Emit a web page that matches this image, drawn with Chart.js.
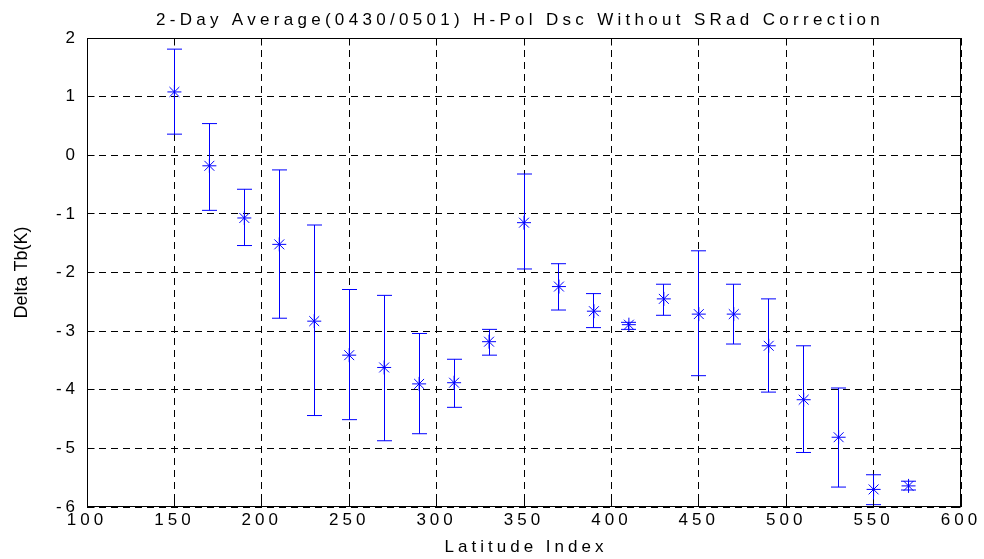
<!DOCTYPE html>
<html>
<head>
<meta charset="utf-8">
<script src="https://cdn.jsdelivr.net/npm/chart.js@4/dist/chart.umd.min.js"></script>
<style>
  body { margin: 0; background: #fff; }
  #wrap { width: 984px; height: 559px; }
</style>
</head>
<body>
<div id="wrap"><canvas id="grafik" width="984" height="559"></canvas></div>
<script>
// --- VERİ ---
const latIndex = [150, 170, 190, 210, 230, 250, 270, 290, 310, 330, 350, 370, 390, 410, 430, 450, 470, 490, 510, 530, 550, 570];
const deltaTb = [1.08, -0.18, -1.07, -1.52, -2.83, -3.41, -3.62, -3.90, -3.88, -3.18, -1.15, -2.24, -2.66, -2.89, -2.45, -2.71, -2.71, -3.25, -4.17, -4.81, -5.70, -5.64];
const upperBar = [1.81, 0.54, -0.58, -0.25, -1.19, -2.29, -2.39, -3.04, -3.48, -2.97, -0.32, -1.85, -2.36, -2.85, -2.20, -1.63, -2.20, -2.45, -3.25, -3.97, -5.45, -5.56];
const lowerBar = [0.36, -0.94, -1.54, -2.78, -4.44, -4.51, -4.87, -4.75, -4.30, -3.41, -1.94, -2.64, -2.94, -2.97, -2.73, -3.76, -3.22, -4.04, -5.07, -5.66, -5.96, -5.71];

const xTicks = [100, 150, 200, 250, 300, 350, 400, 450, 500, 550, 600];
const yTicks = [-6, -5, -4, -3, -2, -1, 0, 1, 2];

const baslik = "2-Day Average(0430/0501) H-Pol Dsc Without SRad Correction";
const xBaslik = "Latitude Index";
const yBaslik = "Delta Tb(K)";

const yazi = "'Liberation Sans', Arial, sans-serif";
const mavi = "#0000ff";

// Chart.js ile aynı piksel hizalaması
const hizala = p => Math.round(p - 0.5) + 0.5;

// --- Hata çubukları (ölçekler üzerinden) ---
const hataCubugu = {
    id: "hataCubugu",
    beforeDatasetsDraw(chart) {
        const { ctx, scales: { x, y } } = chart;
        ctx.save();
        ctx.setLineDash([]);
        ctx.strokeStyle = mavi;
        ctx.lineWidth = 1;
        latIndex.forEach((lat, i) => {
            const px = hizala(x.getPixelForValue(lat));
            const yt = y.getPixelForValue(upperBar[i]);
            const yb = y.getPixelForValue(lowerBar[i]);
            ctx.beginPath();
            ctx.moveTo(px, yt);
            ctx.lineTo(px, yb);
            ctx.moveTo(px - 7.5, yt);
            ctx.lineTo(px + 7.5, yt);
            ctx.moveTo(px - 7.5, yb);
            ctx.lineTo(px + 7.5, yb);
            ctx.stroke();
        });
        ctx.restore();
    }
};

// --- Çerçeve, iç tikler ve başlıklar ---
const cerceve = {
    id: "cerceve",
    beforeDraw(chart) {
        chart.ctx.letterSpacing = "4px";
    },
    afterDraw(chart) {
        const { ctx, chartArea: a, scales: { x, y } } = chart;
        ctx.save();
        ctx.strokeStyle = "#000";
        ctx.lineWidth = 1;
        ctx.setLineDash([]);
        const L = Math.round(a.left) + 0.5, R = Math.round(a.right) - 0.5;
        const T = Math.round(a.top) + 0.5, B = Math.round(a.bottom) - 0.5;
        ctx.beginPath();
        xTicks.forEach(v => {
            const px = hizala(x.getPixelForValue(v));
            ctx.moveTo(px, B); ctx.lineTo(px, B - 7);
            ctx.moveTo(px, T); ctx.lineTo(px, T + 7);
        });
        yTicks.forEach(v => {
            const py = hizala(y.getPixelForValue(v));
            ctx.moveTo(L, py); ctx.lineTo(L + 7, py);
            ctx.moveTo(R, py); ctx.lineTo(R - 7, py);
        });
        ctx.stroke();
        ctx.strokeRect(L, T, R - L, B - T);

        ctx.fillStyle = "#000";
        ctx.font = "17px " + yazi;
        ctx.textAlign = "center";
        ctx.textBaseline = "alphabetic";
        ctx.letterSpacing = "4.3px";
        const orta = (a.left + a.right) / 2;
        ctx.fillText(baslik, orta - 4, 25);
        ctx.letterSpacing = "4px";
        ctx.fillText(xBaslik, orta + 2, 552);

        ctx.letterSpacing = "0px";
        ctx.translate(27, (a.top + a.bottom) / 2);
        ctx.rotate(-Math.PI / 2);
        ctx.font = "18px " + yazi;
        ctx.fillText(yBaslik, 0, 0);
        ctx.restore();
    }
};

const ctx = document.getElementById("grafik").getContext("2d");

new Chart(ctx, {
    type: "scatter",
    data: {
        datasets: [{
            data: latIndex.map((v, i) => ({ x: v, y: deltaTb[i] })),
            pointStyle: "star",
            radius: 7,
            borderColor: mavi,
            backgroundColor: mavi,
            borderWidth: 1
        }]
    },
    options: {
        responsive: false,
        devicePixelRatio: 1,
        animation: false,
        layout: { padding: { left: 0, right: 23, top: 38, bottom: 0 } },
        plugins: { legend: { display: false }, tooltip: { enabled: false } },
        scales: {
            x: {
                type: "linear",
                min: 100,
                max: 600,
                afterFit: s => { s.height = 52; },
                afterBuildTicks: s => { s.ticks = xTicks.map(v => ({ value: v })); },
                ticks: { color: "#000", font: { size: 17, family: yazi }, padding: 3, autoSkip: false, maxRotation: 0 },
                grid: { color: "#000", lineWidth: 1, drawTicks: false },
                border: { display: false, dash: [7, 5] }
            },
            y: {
                type: "linear",
                min: -6,
                max: 2,
                afterFit: s => { s.width = 87; },
                afterBuildTicks: s => { s.ticks = yTicks.map(v => ({ value: v })); },
                ticks: { color: "#000", font: { size: 17, family: yazi }, padding: 8 },
                grid: { color: "#000", lineWidth: 1, drawTicks: false },
                border: { display: false, dash: [7, 5] }
            }
        }
    },
    plugins: [hataCubugu, cerceve]
});
</script>
</body>
</html>
